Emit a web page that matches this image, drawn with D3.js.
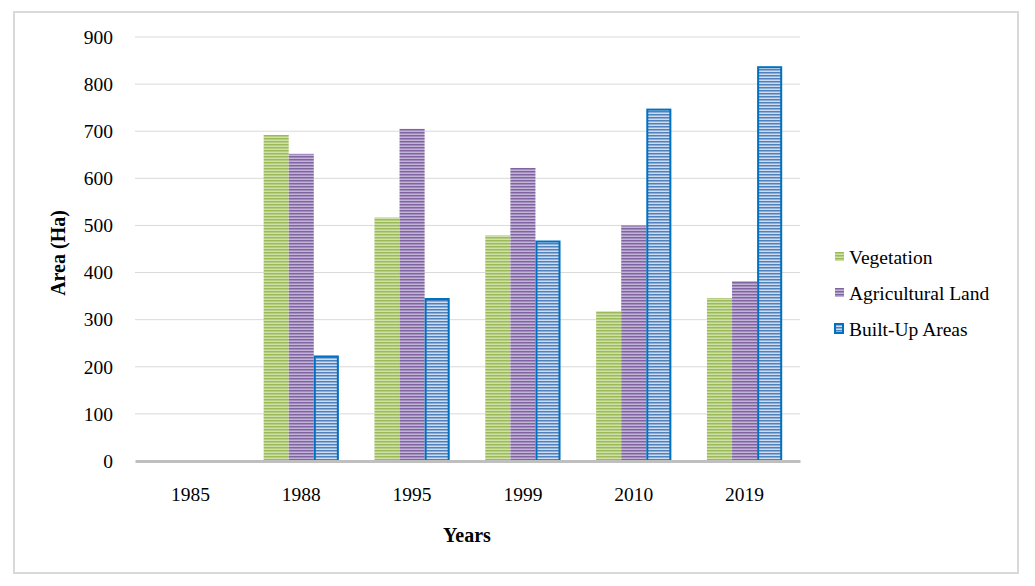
<!DOCTYPE html>
<html><head><meta charset="utf-8">
<script src="https://cdn.jsdelivr.net/npm/d3@7"></script>
<style>body{margin:0;background:#fff}</style>
</head><body>
<svg id="c" width="1035" height="586"></svg>
<script>
const years = ["1985","1988","1995","1999","2010","2019"];
const seriesNames = ["Vegetation","Agricultural Land","Built-Up Areas"];
const vegetation = [0,692,517,479,318,346];
const agricultural = [0,652,705,622,500,382];
const builtUp = [0,224,346,468,748,838];
const yTicks = [0,100,200,300,400,500,600,700,800,900];

const svg = d3.select("#c");
const font = "'Liberation Serif','Times New Roman',serif";
const margin = {left:135, right:800, top:37, bottom:461};

svg.append("rect").attr("x",14).attr("y",12).attr("width",1004).attr("height",561)
  .attr("fill","#fff").attr("stroke","#d9d9d9").attr("stroke-width",2);

const defs = svg.append("defs");
const styles = [
  {id:"pg", bg:"#cfe0a8", fg:"#9bbb59", stroke:null},
  {id:"pp", bg:"#c2b4d6", fg:"#8064a2", stroke:null},
  {id:"pb", bg:"#cddcf0", fg:"#4f81bd", stroke:"#0070c0"}
];
styles.forEach(s=>{
  const p = defs.append("pattern").attr("id",s.id).attr("patternUnits","userSpaceOnUse")
    .attr("width",4).attr("height",3);
  p.append("rect").attr("width",4).attr("height",3).attr("fill",s.bg);
  p.append("rect").attr("width",4).attr("height",1.5).attr("fill",s.fg);
});

const x = d3.scaleBand().domain(years).range([margin.left, margin.right]).padding(0);
const y = d3.scaleLinear().domain([0,900]).range([margin.bottom, margin.top]);

// gridlines
svg.append("g").selectAll("line").data(yTicks.filter(d=>d>0)).join("line")
  .attr("x1",margin.left).attr("x2",margin.right)
  .attr("y1",d=>y(d)).attr("y2",d=>y(d))
  .attr("stroke","#d9d9d9").attr("stroke-width",1);

// y axis labels
const yAxis = d3.axisLeft(y).tickValues(yTicks).tickSize(0).tickPadding(22);
const yg = svg.append("g").attr("transform",`translate(${margin.left},0)`).call(yAxis);
yg.select(".domain").remove();
yg.selectAll("text").attr("font-family",font).attr("font-size",19.5).attr("fill","#000");

const data = [vegetation, agricultural, builtUp];
const x1 = d3.scaleBand().domain([0,1,2]).range([0, x.bandwidth()]).paddingInner(0).paddingOuter(0.71);
data.forEach((vals,i)=>{
  const s = styles[i];
  svg.append("g").selectAll("rect").data(vals.map((v,j)=>({v,yr:years[j]}))).join("rect")
    .attr("x",d=>x(d.yr)+x1(i) + (s.stroke?1:0))
    .attr("width",x1.bandwidth() - (s.stroke?2:0))
    .attr("y",d=>y(d.v) + (s.stroke?1:0))
    .attr("height",d=>Math.max(0, y(0)-y(d.v) - (s.stroke?1:0)))
    .attr("fill",`url(#${s.id})`)
    .attr("stroke",s.stroke||"none").attr("stroke-width",2)
    .attr("display",d=>d.v>0?null:"none");
});

// x axis
const xAxis = d3.axisBottom(x).tickSize(0).tickPadding(26);
const xg = svg.append("g").attr("transform",`translate(0,${margin.bottom})`).call(xAxis);
xg.select(".domain").attr("stroke","#bfbfbf").attr("stroke-width",3);
xg.selectAll("text").attr("font-family",font).attr("font-size",19.5).attr("fill","#000");

// axis titles
svg.append("text").attr("transform","translate(65,253) rotate(-90)")
  .attr("text-anchor","middle").attr("font-family",font).attr("font-weight","bold")
  .attr("font-size",20).text("Area (Ha)");
svg.append("text").attr("x",467).attr("y",542)
  .attr("text-anchor","middle").attr("font-family",font).attr("font-weight","bold")
  .attr("font-size",20).text("Years");

// legend
const leg = svg.append("g");
seriesNames.forEach((n,i)=>{
  const cy = 257 + i*36;
  const s = styles[i];
  leg.append("rect").attr("x",s.stroke?835:835).attr("y",s.stroke?cy-5:cy-5)
    .attr("width",s.stroke?8:9).attr("height",s.stroke?9:9)
    .attr("fill",`url(#${s.id})`).attr("stroke",s.stroke||"none").attr("stroke-width",2);
  leg.append("text").attr("x",849).attr("y",cy+7).attr("font-family",font)
    .attr("font-size",19.5).text(n);
});
</script>
</body></html>
